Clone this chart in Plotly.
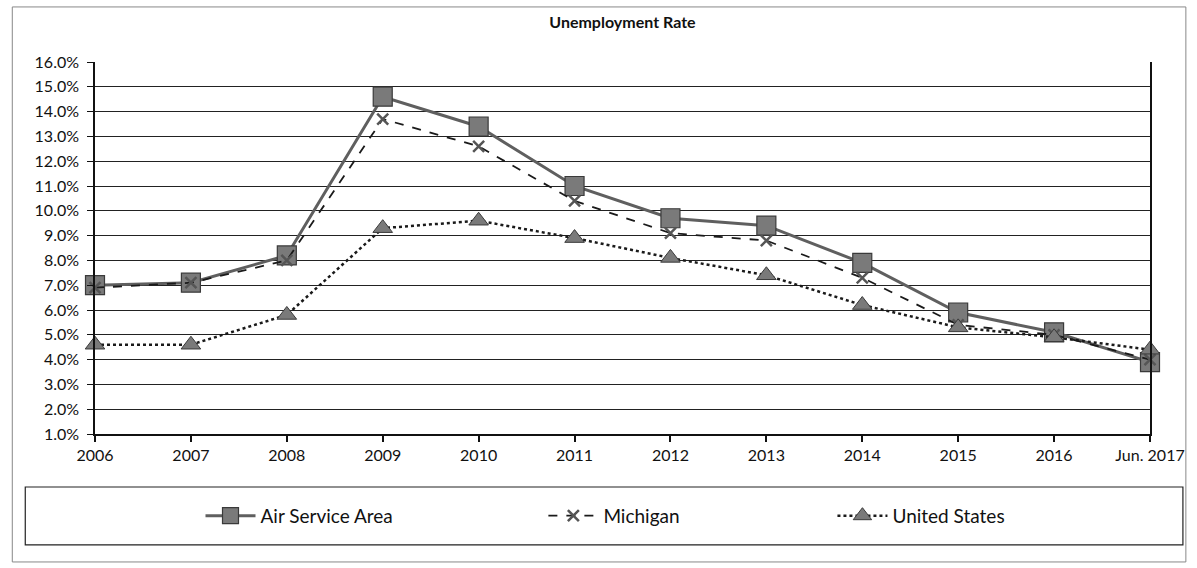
import plotly.graph_objects as go

years = ["2006", "2007", "2008", "2009", "2010", "2011", "2012", "2013", "2014", "2015", "2016", "Jun. 2017"]
air_service_area = [7.0, 7.1, 8.2, 14.6, 13.4, 11.0, 9.7, 9.4, 7.9, 5.9, 5.1, 3.9]
michigan = [6.9, 7.1, 8.0, 13.7, 12.6, 10.4, 9.1, 8.8, 7.3, 5.4, 5.0, 4.0]
united_states = [4.6, 4.6, 5.8, 9.3, 9.6, 8.9, 8.1, 7.4, 6.2, 5.3, 4.9, 4.4]
y_ticks = [1, 2, 3, 4, 5, 6, 7, 8, 9, 10, 11, 12, 13, 14, 15, 16]

FONT = "Lato, 'Open Sans', sans-serif"

fig = go.Figure()
fig.add_trace(go.Scatter(
    x=years, y=air_service_area, name="Air Service Area", mode="lines+markers",
    line=dict(color="#5f5f5f", width=3),
    marker=dict(symbol="square", size=19, color="#7a7a7a", line=dict(color="#3a3a3a", width=1.2)),
    cliponaxis=False, legend="legend",
))
fig.add_trace(go.Scatter(
    x=years, y=michigan, name="Michigan", mode="lines+markers",
    line=dict(color="#1a1a1a", width=1.8, dash="dash"),
    marker=dict(symbol="x-thin-open", size=11, color="#555555", line=dict(color="#555555", width=2.5)),
    cliponaxis=False, legend="legend2",
))
fig.add_trace(go.Scatter(
    x=years, y=united_states, name="United States", mode="lines+markers",
    line=dict(color="#1a1a1a", width=2.5, dash="dot"),
    marker=dict(symbol="triangle-up", size=17, color="#7a7a7a", line=dict(color="#3a3a3a", width=1)),
    cliponaxis=False, legend="legend3",
))

leg_common = dict(orientation="h", y=-0.22, yanchor="middle", xanchor="left",
                  bgcolor="rgba(0,0,0,0)", borderwidth=0,
                  font=dict(family=FONT, size=19, color="#111111"), itemwidth=50)

fig.update_layout(
    width=1197, height=568,
    margin=dict(l=95, r=43, t=62, b=134),
    paper_bgcolor="white", plot_bgcolor="white",
    font=dict(family=FONT, size=16, color="#111111"),
    title=dict(text="<b>Unemployment Rate</b>", x=0.52, xanchor="center", y=0.961, yanchor="middle",
               font=dict(family=FONT, size=16, color="#111111")),
    showlegend=True,
    legend=dict(x=0.100, **leg_common),
    legend2=dict(x=0.425, **leg_common),
    legend3=dict(x=0.699, **leg_common),
    shapes=[
        dict(type="rect", xref="paper", yref="paper", x0=-0.0784, x1=1.034, y0=-0.344, y1=1.148,
             line=dict(color="#888888", width=1), layer="below"),
        dict(type="rect", xref="paper", yref="paper", x0=-0.0661, x1=1.0312, y0=-0.298, y1=-0.1425,
             line=dict(color="#222222", width=1.2), layer="below"),
    ],
)
fig.update_xaxes(
    type="category", range=[0, len(years) - 1], showgrid=False,
    showline=True, linecolor="#111111", linewidth=1.5,
    ticks="outside", ticklen=6, tickcolor="#111111", tickwidth=1.5,
    tickfont=dict(family=FONT, size=16), zeroline=False,
)
fig.update_yaxes(
    range=[1, 16], tickvals=y_ticks, ticktext=[f"{v:.1f}%" for v in y_ticks],
    showgrid=True, gridcolor="#222222", gridwidth=1.2,
    showline=True, linecolor="#111111", linewidth=1.5, mirror=True,
    ticks="outside", ticklen=6, tickcolor="#111111", tickwidth=1.2,
    ticklabelstandoff=5,
    tickfont=dict(family=FONT, size=16), zeroline=False,
)

fig.write_html("out.html", post_script="document.body.style.margin='0px';",
               config={"displayModeBar": False})
